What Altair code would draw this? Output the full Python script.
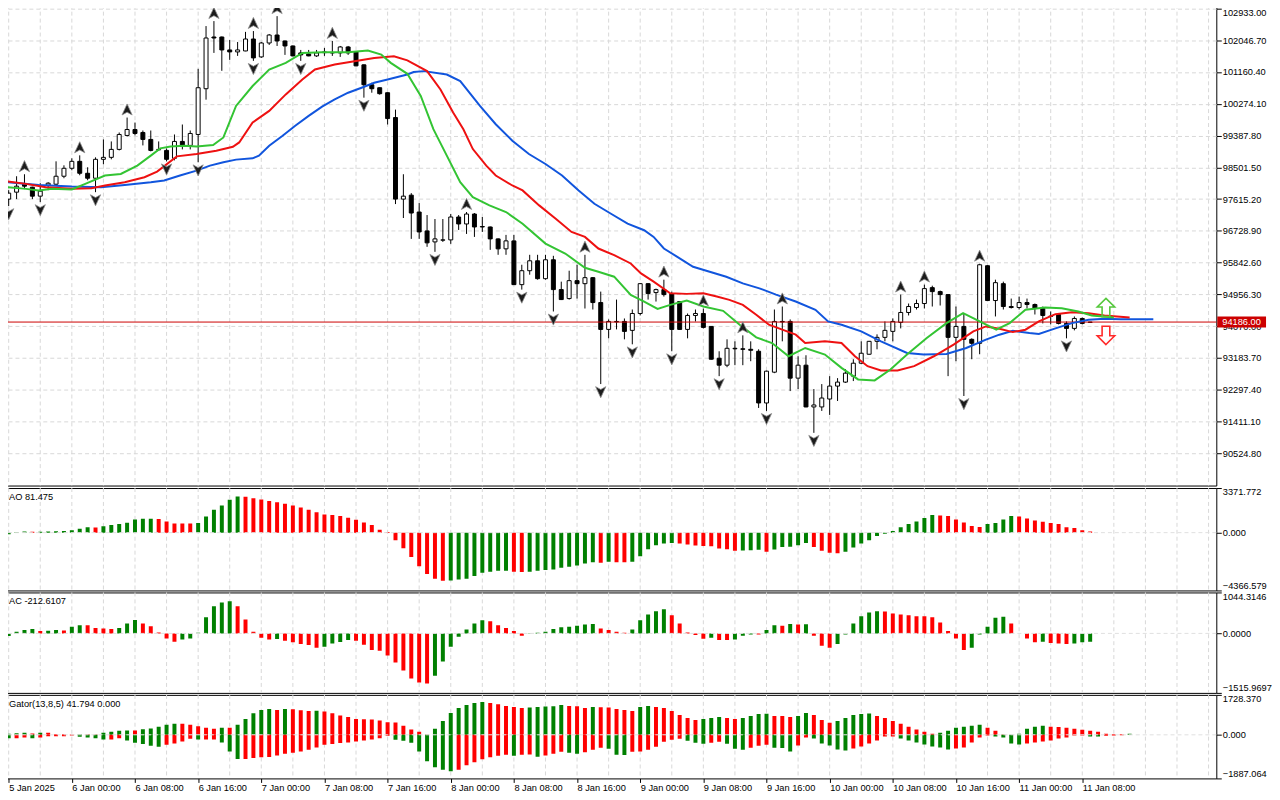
import altair as alt
import pandas as pd

FONT = "Liberation Sans"
GRID = "#d8d8d8"
GREEN = "#008000"
RED = "#ff0000"

# ---------------- candles (H1 bars, index 0 = 5 Jan 16:00) ----------------
opens = [97615, 97809, 98031, 97948, 97698, 98004, 98031, 98253, 98475, 98669,
         98336, 98198, 98725, 98780, 99002, 99391, 99557, 99474, 99280, 98990,
         98974, 98753, 99224, 99113, 99418, 100694, 102137, 102137, 101776, 101721,
         101748, 102081, 101582, 101970, 102192, 102026, 101887, 101693, 101665, 101610,
         101700, 101693, 101693, 101859, 101721, 101360, 100805, 100722, 100583, 99890,
         97615, 97726, 97255, 96728, 96422, 96470, 96478, 97116, 96922, 97199,
         96850, 96838, 96506, 96228, 96450, 95230, 95618, 95895, 95396, 95923,
         95091, 94841, 95341, 95257, 95424, 94730, 93981, 94190, 94203, 93954,
         94425, 95257, 95008, 95091, 94980, 94758, 93981, 94370, 94425, 94064,
         93177, 92983, 93454, 93440, 93426, 93371, 91929, 92788, 94203, 94203,
         92622, 92983, 91818, 91818, 92039, 92400, 92511, 92677, 93038, 93288,
         93648, 93759, 93926, 94175, 94453, 94592, 94703, 95146, 95035, 94952,
         93759, 94064, 93704, 93593, 95757, 94786, 95257, 94619, 94592, 94730,
         94675, 94564, 94350, 94397, 94148, 94009, 94286, 94175]
closes = [97782, 97976, 97976, 97698, 97837, 98059, 98253, 98475, 98669, 98336,
          98198, 98725, 98780, 99002, 99418, 99557, 99446, 99280, 98974, 99002,
          98725, 99224, 99085, 99446, 100722, 102109, 102109, 101776, 101721, 101776,
          102081, 101554, 101970, 102192, 102026, 101887, 101610, 101638, 101610, 101693,
          101721, 101700, 101859, 101693, 101332, 100805, 100694, 100556, 99862, 97615,
          97698, 97227, 96700, 96395, 96506, 96478, 97116, 96922, 97199, 96838,
          96838, 96506, 96228, 96450, 95230, 95618, 95895, 95396, 95923, 95091,
          94813, 95341, 95257, 95424, 94730, 93981, 94203, 94203, 93926, 94425,
          95257, 94980, 95091, 94952, 93981, 93981, 94370, 94425, 94037, 93149,
          92983, 93454, 93440, 93426, 93399, 91929, 92816, 94203, 94190, 92622,
          92983, 91818, 91873, 92067, 92400, 92511, 92761, 93038, 93316, 93648,
          93759, 93954, 94203, 94453, 94619, 94703, 95119, 95035, 94952, 93759,
          94064, 93704, 93593, 95784, 94786, 95285, 94619, 94592, 94730, 94675,
          94564, 94370, 94342, 94148, 94009, 94286, 94148, 94186]
highs = [97865, 98253, 98309, 97960, 98059, 98087, 98669, 98558, 98753, 98836,
         98503, 98780, 99280, 99224, 99474, 99890, 99751, 99529, 99529, 99224,
         99030, 99418, 99696, 99529, 101249, 102442, 102581, 102150, 102054, 101998,
         102280, 102303, 101998, 102220, 102719, 102040, 101900, 101776, 101776, 101776,
         101832, 102026, 101887, 101887, 101730, 101370, 100861, 100730, 100590, 100112,
         98309, 97782, 97504, 97171, 97060, 97060, 97199, 97171, 97255, 97227,
         97116, 96850, 96520, 96617, 96617, 95784, 96062, 96062, 96062, 96034,
         95313, 95618, 95784, 96062, 95440, 95035, 94259, 94813, 94286, 94536,
         95270, 95270, 95119, 95368, 95035, 94770, 94425, 94536, 94564, 94070,
         93371, 93704, 93648, 93815, 93648, 93426, 92830, 94536, 94619, 94259,
         93232, 93260, 92317, 92456, 92677, 92622, 92872, 93149, 93648, 93660,
         93843, 94203, 94286, 94952, 94703, 94813, 95230, 95200, 95063, 94965,
         94619, 94425, 93732, 95812, 95770, 95368, 95313, 94841, 94897, 94841,
         94703, 94619, 94481, 94425, 94203, 94342, 94314, 94190]
lows = [97421, 97615, 97893, 97615, 97532, 97865, 98004, 98198, 98420, 98281,
        98142, 97809, 98586, 98725, 98974, 99363, 99391, 99113, 98947, 98974,
        98669, 98697, 99002, 99002, 98642, 100389, 101693, 101194, 101499, 101610,
        101740, 101471, 101554, 101915, 101887, 101638, 101600, 101471, 101600, 101582,
        101610, 101610, 101582, 101638, 101320, 100445, 100583, 100528, 99696, 97477,
        97088, 96506, 96506, 96284, 96145, 96422, 96367, 96755, 96644, 96561,
        96700, 96200, 96062, 96062, 95220, 95091, 95507, 95368, 95368, 94481,
        94800, 94813, 94841, 94564, 94536, 92456, 93732, 93981, 93704, 93565,
        94370, 94813, 94758, 94897, 93371, 93970, 93732, 94203, 94009, 93140,
        92677, 92927, 92983, 92983, 93094, 91790, 91707, 92761, 93648, 92261,
        92317, 91810, 91096, 91707, 91596, 91984, 92490, 92540, 93010, 93280,
        93426, 93648, 93648, 94009, 94370, 94536, 94564, 94619, 94647, 92677,
        93094, 92123, 93149, 93288, 94770, 94342, 94536, 94564, 94536, 94564,
        94397, 94148, 94120, 94120, 93732, 93954, 94120, 94170]

up_fractals = [2, 9, 15, 26, 31, 34, 41, 58, 73, 83, 88, 93, 98, 113, 116, 123]
down_fractals = [0, 4, 11, 20, 24, 31, 37, 45, 54, 65, 69, 75, 79, 84, 90, 96, 102, 121, 134]

# ---------------- Alligator lines (bar index, price) ----------------
jaw_idx = [-0.3, 3.8, 8, 11.7, 14.7, 18, 19.7, 21.7, 23.8, 25.5, 27.2, 28.8, 30.9, 31.7, 33, 34.7,
           36.3, 38, 39.7, 41.3, 43, 44.7, 46.3, 48, 50.5, 51.3, 52.6, 55.5, 57.2, 59.7, 61.7,
           63.8, 65.9, 68, 70.1, 72.2, 74.2, 76.3, 78.4, 80.5, 81.7, 83, 84.7, 86.7, 88.8, 90.9,
           93, 95.1, 97.2, 99.7, 102.2, 103.8, 105.5, 108, 110.5, 113.8, 115.9, 118.8, 121.3,
           123.8, 125.5, 127.2, 129.3, 130.5, 132.6, 134.7, 136.8, 138.8, 140.9, 145]
jaw_val = [98087, 98012, 97968, 97948, 98012, 98087, 98134, 98273, 98411, 98550, 98642, 98717,
           98753, 98827, 99105, 99382, 99660, 99937, 100195, 100398, 100583, 100722, 100861,
           100952, 101091, 101158, 101185, 101091, 100908, 100214, 99704, 99244, 98872, 98594,
           98273, 97857, 97485, 97207, 96930, 96747, 96561, 96237, 96006, 95729, 95590, 95451,
           95266, 95127, 94952, 94758, 94528, 94203, 94112, 93926, 93648, 93324, 93279, 93296,
           93462, 93696, 93834, 93945, 93879, 93851, 94009, 94156, 94250, 94278, 94267, 94267]
teeth_idx = [-0.3, 2.2, 4.7, 8, 10.5, 12.2, 14.7, 17.2, 18.8, 21.3, 23.8, 26.3, 28.4, 29.2, 30.9,
             33, 35.1, 37.2, 38.8, 41.3, 43.8, 46.3, 48.8, 50.5, 53, 54.7, 56.3, 57.6, 58.8, 60.5,
             61.7, 63.8, 65.1, 67.2, 69.3, 71.3, 73, 74.7, 76.7, 78.8, 80.1, 81.7, 83.8, 85.9, 88,
             89.7, 91.3, 93, 94.7, 96.3, 98, 99.7, 100.9, 103.4, 105.5, 107.2, 108.8, 110.5, 112.6,
             114.7, 117.2, 119.7, 122.2, 123.8, 125.5, 127.2, 128.8, 130.5, 132.6, 134.7, 136.8,
             138.8, 142]
teeth_val = [98115, 98040, 97948, 97901, 97920, 97995, 98087, 98225, 98384, 98808, 98872, 98966,
             99077, 99196, 99751, 100076, 100536, 100952, 101230, 101368, 101463, 101554, 101601,
             101485, 101185, 100675, 100029, 99565, 99011, 98550, 98273, 97995, 97857, 97440,
             97069, 96700, 96561, 96237, 96053, 95820, 95543, 95313, 94988, 94972, 94988, 94897,
             94805, 94666, 94389, 94112, 93973, 93834, 93601, 93648, 93601, 93232, 92955, 92836,
             92836, 92955, 93232, 93557, 93926, 94064, 94001, 93906, 93973, 94203, 94406, 94461,
             94433, 94370, 94314]
lips_idx = [-0.3, 2.2, 3.8, 5.5, 8, 9.7, 12.2, 14.2, 16.3, 18, 19.2, 20.5, 22.2, 23.8, 25.9, 27.2,
            28.8, 30.9, 33, 35.1, 37.2, 39.7, 43, 45.5, 47.2, 48.4, 50.5, 52.2, 53.8, 55.5, 57.2,
            58.8, 60.9, 63, 65.1, 68, 70.5, 73, 74.7, 76.7, 78.8, 80.5, 82.2, 83.8, 85.9, 88, 90.5,
            92.6, 94.7, 96.7, 98.8, 100.9, 103.4, 105.5, 107.6, 109.7, 111.7, 113.8, 116.3, 118.8,
            120.9, 123, 125.1, 126.8, 128.8, 131.3, 133.4, 135.5, 137.2, 140]
lips_val = [97948, 97901, 97857, 97901, 97884, 98040, 98273, 98317, 98550, 98827, 99030, 99085,
            99105, 99085, 99122, 99335, 100214, 100769, 101230, 101416, 101693, 101712, 101712,
            101757, 101646, 101416, 101110, 100492, 99565, 98827, 98087, 97671, 97440, 97255,
            96930, 96375, 96098, 95701, 95590, 95451, 94944, 94758, 94555, 94666, 94786, 94619,
            94500, 94112, 93759, 93600, 93232, 93463, 93279, 92908, 92586, 92558, 92863, 93279,
            93740, 94156, 94433, 94203, 93973, 94156, 94528, 94592, 94572, 94481, 94370, 94314]

# ---------------- oscillators ----------------
ao = [-120, 50, 80, 60, 75, 85, 100, 130,
      175, 300, 400, 395, 475, 575, 650, 750,
      1000, 1050, 1052, 1040, 850, 700, 695, 690,
      725, 1225, 1730, 2050, 2480, 2730, 2720, 2600,
      2500, 2400, 2300, 2180, 2050, 1900, 1730, 1550,
      1380, 1330, 1250, 1130, 975, 775, 575, 225,
      50, -575, -1175, -1830, -2530, -3130, -3480, -3630,
      -3620, -3530, -3480, -3280, -3030, -2955, -2880, -2870,
      -2955, -2980, -2955, -2880, -2830, -2780, -2655, -2580,
      -2480, -2330, -2230, -2280, -2200, -2230, -2235, -2200,
      -1780, -1250, -950, -825, -775, -825, -900, -975,
      -1000, -1025, -1200, -1250, -1375, -1350, -1325, -1300,
      -1450, -1275, -1075, -1070, -950, -775, -1075, -1375,
      -1525, -1550, -1450, -1125, -825, -575, -250, -75,
      125, 400, 650, 850, 1100, 1325, 1300, 1250,
      1000, 775, 500, 425, 650, 725, 1000, 1250,
      1225, 1075, 925, 825, 725, 650, 400, 350,
      175, 81.475]
ac = [-68, 42, 85, 110, 60, 68, 85, 76,
      170, 210, 205, 135, 127, 110, 135, 255,
      340, 255, 185, 25, -127, -211, -152, -127,
      17, 414, 693, 786, 820, 693, 355, 42,
      -110, -152, -144, -186, -228, -270, -296, -363,
      -338, -254, -220, -169, -186, -287, -422, -440,
      -566, -744, -946, -1149, -1251, -1276, -1082, -718,
      -338, -85, 101, 254, 338, 313, 211, 135,
      59, -59, -10, 17, 42, 110, 160, 169,
      194, 228, 237, 127, 85, 42, 17, 101,
      338, 481, 566, 617, 465, 253, 25, -42,
      -135, -110, -169, -170, -152, -60, -25, -30,
      85, 211, 194, 237, 230, 236, -59, -313,
      -363, -270, -25, 254, 440, 532, 566, 560,
      507, 482, 465, 440, 438, 414, 279, 59,
      -127, -422, -363, -25, 169, 397, 422, 253,
      -5, -127, -228, -211, -245, -254, -270, -254,
      -228, -212.6107]
gator_up = [43, 72, 86, 57, 86, 86, 29, 29, 14, 29,
            29, 14, 86, 129, 172, 187, 187, 244, 273, 344,
            431, 474, 474, 431, 373, 301, 258, 301, 301, 431,
            689, 933, 1076, 1119, 1076, 1119, 1105, 1062, 1033, 1040,
            1005, 933, 832, 775, 689, 674, 660, 617, 545, 531,
            387, 230, 129, 14, 258, 603, 947, 1162, 1292, 1378,
            1421, 1378, 1320, 1248, 1205, 1162, 1177, 1205, 1220, 1234,
            1292, 1248, 1234, 1162, 1205, 1191, 1177, 1119, 1076, 1033,
            1205, 1248, 1205, 1162, 1033, 861, 732, 646, 689, 732,
            775, 732, 689, 732, 818, 904, 910, 818, 810, 775,
            818, 947, 861, 646, 517, 603, 732, 861, 904, 918,
            818, 732, 603, 474, 344, 230, 129, 43, 86, 172,
            301, 344, 387, 431, 301, 172, 14, 8, 43, 258,
            344, 387, 344, 340, 301, 258, 215, 172, 129, 43,
            29, 25, 41.794]
gator_down = [-144, -144, -115, -144, -115, -57, -57, -57, -29, -86,
              -115, -144, -201, -201, -144, -244, -344, -402, -474, -517,
              -431, -373, -287, -172, -201, -201, -201, -330, -718, -1048,
              -1048, -1005, -976, -961, -890, -818, -775, -718, -646, -545,
              -431, -402, -359, -330, -287, -244, -201, -144, -43, -215,
              -258, -344, -718, -1148, -1406, -1507, -1579, -1507, -1320, -1191,
              -1062, -976, -904, -861, -904, -861, -850, -947, -890, -818,
              -732, -775, -818, -760, -646, -560, -603, -861, -870, -732,
              -720, -646, -517, -301, -215, -172, -258, -344, -387, -344,
              -301, -387, -603, -646, -560, -474, -431, -560, -575, -718,
              -459, -115, -158, -373, -459, -631, -674, -588, -502, -373,
              -244, -72, -70, -158, -244, -330, -416, -502, -545, -631,
              -588, -545, -330, -115, -29, -72, -115, -373, -416, -373,
              -330, -287, -244, -158, -115, -29, -25, -72, -75, -43,
              -29, -14, 0]

# ---------------- axes / labels ----------------
price_ticks = [102933.00, 102046.70, 101160.40, 100274.10, 99387.80, 98501.50, 97615.20,
               96728.90, 95842.60, 94956.30, 94070.00, 93183.70, 92297.40, 91411.10, 90524.80]
price_range = [89626, 103038]
ao_ticks = [3371.772, 0.0, -4366.579]
ac_ticks = [1044.3146, 0.0, -1515.9697]
gator_ticks = [1728.370, 0.0, -1887.064]
time_labels = ["5 Jan 2025", "6 Jan 00:00", "6 Jan 08:00", "6 Jan 16:00", "7 Jan 00:00",
               "7 Jan 08:00", "7 Jan 16:00", "8 Jan 00:00", "8 Jan 08:00", "8 Jan 16:00",
               "9 Jan 00:00", "9 Jan 08:00", "9 Jan 16:00", "10 Jan 00:00", "10 Jan 08:00",
               "10 Jan 16:00", "11 Jan 00:00", "11 Jan 08:00"]
current_price = 94186.00
signal_idx = 139
signal_prices = [94592, 93815]

# ---------------- build ----------------
n = len(opens)
candles = pd.DataFrame({"i": list(range(n)), "open": opens, "high": highs,
                        "low": lows, "close": closes})

XS = alt.Scale(domain=[-0.15, 152.35], nice=False, zero=False)
YS = alt.Scale(domain=price_range, nice=False, zero=False)
W = 1220.5
grid_idx = list(range(0, 153, 4))
LFS = 9.3


def right_axis(vals, fmt, grid=False, flush=False, baseline=None):
    kw = dict(orient="right", values=vals, format=fmt, grid=grid, gridColor=GRID,
              gridDash=[4, 3], domain=False, ticks=True, tickSize=5, tickColor="black",
              labelFont=FONT, labelFontSize=LFS, labelColor="black", labelPadding=1,
              title=None, labelFlush=flush, labelOverlap=False)
    if baseline is not None:
        kw["labelBaseline"] = baseline
    return alt.Axis(**kw)


xaxis_bottom = alt.Axis(
    orient="bottom", values=list(range(0, 137, 8)),
    labelExpr="[" + ",".join("'" + t + "'" for t in time_labels) + "][round(datum.value/8)]",
    grid=False, domain=False, ticks=True, tickSize=4, tickColor="black",
    labelAlign="left", labelBaseline="top", labelPadding=1, labelFont=FONT,
    labelFontSize=LFS, labelColor="black", labelFlush=False, labelOverlap=False, title=None)


def xgrid(xaxis=None):
    return alt.Chart(pd.DataFrame({"g": grid_idx})).mark_rule(
        color=GRID, strokeDash=[4, 3], strokeWidth=1
    ).encode(x=alt.X("g:Q", scale=XS, axis=xaxis))


YAX = right_axis(price_ticks, ".2f", grid=True,
                 baseline={"condition": {"test": f"datum.value > {price_ticks[0] - 1}",
                                         "value": "top"}, "value": "middle"})


def X(field="i:Q"):
    return alt.X(field, scale=XS, axis=None)


def Y(field):
    return alt.Y(field, scale=YS, axis=YAX)


wicks = alt.Chart(candles).mark_rule(color="black", strokeWidth=1, clip=True).encode(
    x=X(), y=Y("low:Q"), y2="high:Q")
bodies = alt.Chart(candles).mark_bar(size=4, stroke="black", strokeWidth=1, clip=True).encode(
    x=X(), y=Y("open:Q"), y2="close:Q",
    fill=alt.condition("datum.close >= datum.open", alt.value("white"), alt.value("black")),
)


def alli(idx, val, color):
    return alt.Chart(pd.DataFrame({"i": idx, "v": val})).mark_line(
        color=color, strokeWidth=2, clip=True
    ).encode(x=X(), y=Y("v:Q"), order="i:Q")


UP_FR = "M0,-1L0.9,0.95L0,0.45L-0.9,0.95Z"
DN_FR = "M0,1L0.9,-0.95L0,-0.45L-0.9,-0.95Z"
up_df = pd.DataFrame({"i": up_fractals, "p": [highs[k] for k in up_fractals]})
dn_df = pd.DataFrame({"i": down_fractals, "p": [lows[k] for k in down_fractals]})
frac_up = alt.Chart(up_df).mark_point(shape=UP_FR, size=130, filled=True, fill="#1c1c1c",
                                      stroke="#8c8c8c", strokeWidth=0.8, opacity=1,
                                      yOffset=-8, clip=True).encode(x=X(), y=Y("p:Q"))
frac_dn = alt.Chart(dn_df).mark_point(shape=DN_FR, size=130, filled=True, fill="#1c1c1c",
                                      stroke="#8c8c8c", strokeWidth=0.8, opacity=1,
                                      yOffset=8, clip=True).encode(x=X(), y=Y("p:Q"))

cp_df = pd.DataFrame({"p": [current_price], "t": [f"{current_price:.2f}"]})
price_line = alt.Chart(cp_df).mark_rule(color="#cc0000", strokeWidth=1).encode(y=Y("p:Q"))
price_box = alt.Chart(cp_df).mark_rule(color="#cc0000", strokeWidth=11, strokeCap="butt",
                                       clip=False).encode(
    y=Y("p:Q"), x=alt.value(1221.5), x2=alt.value(1270.5))
price_txt = alt.Chart(cp_df).mark_text(color="white", align="left", baseline="middle",
                                       font=FONT, fontSize=LFS, clip=False).encode(
    y=Y("p:Q"), x=alt.value(1226.5), text="t:N")

UP_AR = "M0,-1L0.95,-0.05L0.42,-0.05L0.42,1L-0.42,1L-0.42,-0.05L-0.95,-0.05Z"
DN_AR = "M0,1L0.95,0.05L0.42,0.05L0.42,-1L-0.42,-1L-0.42,0.05L-0.95,0.05Z"
sig_up = alt.Chart(pd.DataFrame({"i": [signal_idx], "p": [signal_prices[0]]})).mark_point(
    shape=UP_AR, size=340, filled=False, stroke="#55c83c", strokeWidth=1.6, opacity=1).encode(
    x=X(), y=Y("p:Q"))
sig_dn = alt.Chart(pd.DataFrame({"i": [signal_idx], "p": [signal_prices[1]]})).mark_point(
    shape=DN_AR, size=340, filled=False, stroke="#ff2a2a", strokeWidth=1.6, opacity=1).encode(
    x=X(), y=Y("p:Q"))

main = alt.layer(
    xgrid(), wicks, bodies, price_line,
    alli(jaw_idx, jaw_val, "#1155dd"), alli(teeth_idx, teeth_val, "#ee1111"),
    alli(lips_idx, lips_val, "#33c433"),
    frac_up, frac_dn, sig_up, sig_dn, price_box, price_txt,
).properties(width=W, height=483.5)


def updown(vals):
    cols = [GREEN]
    for k in range(1, len(vals)):
        cols.append(GREEN if abs(vals[k]) > abs(vals[k - 1]) else RED)
    return cols


def updown_signed(vals):
    cols = [GREEN]
    for k in range(1, len(vals)):
        cols.append(GREEN if vals[k] > vals[k - 1] else RED)
    return cols


def osc_panel(series_list, scale_dom, ticks, fmt, title, height, xaxis=None):
    S = alt.Scale(domain=scale_dom, nice=False, zero=False)
    AX = right_axis(ticks, fmt, flush=True)
    layers = [xgrid(xaxis)]
    for vals, cols in series_list:
        df = pd.DataFrame({"i": list(range(len(vals))), "v": vals, "c": cols})
        layers.append(alt.Chart(df).mark_bar(size=4, clip=True).encode(
            x=alt.X("i:Q", scale=XS, axis=xaxis),
            y=alt.Y("v:Q", scale=S, axis=AX),
            y2=alt.datum(0),
            color=alt.Color("c:N", scale=None),
        ))
    layers.append(alt.Chart(pd.DataFrame({"z": [0]})).mark_rule(
        color="#e0e0e0", strokeDash=[4, 3], strokeWidth=1).encode(
        y=alt.Y("z:Q", scale=S, axis=AX)))
    layers.append(alt.Chart(pd.DataFrame({"t": [title]})).mark_text(
        align="left", baseline="top", font=FONT, fontSize=LFS, color="black").encode(
        x=alt.value(6.5), y=alt.value(5), text="t:N"))
    return alt.layer(*layers).properties(width=W, height=height)


ao_panel = osc_panel([(ao, updown_signed(ao))], [ao_ticks[2], ao_ticks[0]], ao_ticks,
                     ".3f", f"AO {ao[-1]:.3f}", 103)
ac_panel = osc_panel([(ac, updown_signed(ac))], [ac_ticks[2], ac_ticks[0]], ac_ticks,
                     ".4f", f"AC {ac[-1]:.4f}", 101)
gator_panel = osc_panel([(gator_up, updown(gator_up)), (gator_down, updown(gator_down))],
                        [gator_ticks[2], gator_ticks[0]], gator_ticks, ".3f",
                        f"Gator(13,8,5) {gator_up[-1]:.3f} {abs(gator_down[-1]):.3f}", 84,
                        xaxis=xaxis_bottom)

chart = alt.vconcat(main, ao_panel, ac_panel, gator_panel, spacing=2, bounds="flush").properties(
    padding={"left": -6.5, "top": -6.5, "right": 0, "bottom": 0},
    background="white",
).configure_view(stroke="black", strokeWidth=1)

chart.save("out.html", embed_options={"renderer": "svg", "actions": False})
